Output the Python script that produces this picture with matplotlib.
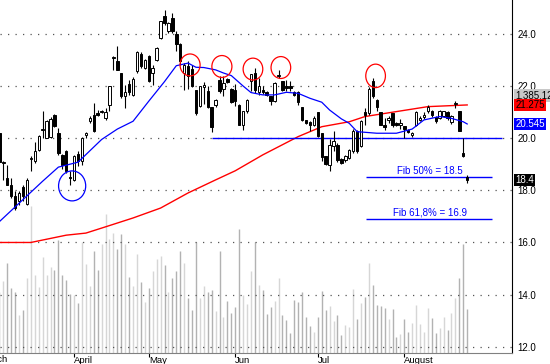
import numpy as np
import matplotlib
matplotlib.use("Agg")
import matplotlib.pyplot as plt
import matplotlib.transforms as mtransforms
from matplotlib.patches import Ellipse

plt.rcParams['font.family'] = ['Liberation Sans', 'DejaVu Sans']

# daily prices, one entry per trading day (March .. August)
opens = [20.20, 19.05, 18.47, 18.22, 17.77, 17.58, 18.12, 17.48, 19.20, 19.12,
         19.56, 20.30, 20.01, 20.05, 20.90, 20.20, 19.37, 19.50, 18.52, 18.41,
         19.39, 19.12, 20.13, 20.65, 20.90, 20.97, 21.00, 20.78, 21.29, 23.08,
         22.97, 22.50, 21.60, 22.09, 21.67, 22.57, 23.21, 22.70, 23.14, 22.50,
         23.00, 23.85, 24.68, 24.10, 24.61, 24.00, 23.62, 22.50, 22.75, 22.65,
         21.83, 21.22, 21.95, 21.80, 21.20, 21.28, 22.23, 21.89, 22.27, 21.89,
         21.86, 21.29, 20.50, 21.03, 22.21, 22.50, 21.77, 21.86, 21.77, 21.61,
         21.42, 22.37, 22.18, 22.00, 21.99, 21.77, 21.77, 21.19, 20.68, 20.62,
         20.50, 21.00, 20.20, 19.31, 18.99, 19.69, 19.75, 19.22, 19.18, 19.24,
         19.50, 20.27, 19.69, 21.00, 20.97, 22.21, 21.48, 21.00, 20.50, 20.71,
         20.97, 20.59, 20.52, 20.46, 20.33, 20.11, 20.50, 20.71, 20.80, 21.03,
         21.06, 20.80, 20.78, 20.84, 21.00, 20.62, 21.31, 21.03, 19.45, 18.50]
highs = [20.20, 19.11, 18.99, 18.47, 17.96, 17.96, 18.22, 18.47, 19.30, 19.84,
         20.14, 21.06, 20.70, 20.80, 20.92, 20.39, 19.40, 19.56, 18.73, 19.37,
         19.50, 20.05, 20.25, 20.84, 21.35, 21.10, 21.10, 21.16, 22.02, 23.14,
         23.53, 22.50, 22.05, 22.25, 22.35, 23.35, 23.30, 23.05, 23.20, 22.82,
         23.49, 24.51, 24.93, 24.45, 24.80, 24.10, 23.65, 22.90, 22.95, 22.80,
         21.83, 22.00, 22.16, 22.00, 21.20, 21.50, 22.40, 22.40, 22.30, 21.92,
         22.06, 21.30, 21.06, 21.50, 22.46, 22.70, 22.31, 22.00, 21.80, 21.61,
         22.15, 22.63, 22.20, 22.25, 22.18, 21.80, 21.80, 21.20, 20.70, 20.65,
         20.85, 21.00, 20.20, 19.31, 19.95, 20.29, 19.80, 19.25, 19.35, 19.60,
         20.35, 20.30, 20.70, 21.16, 21.95, 22.31, 21.50, 21.02, 20.78, 20.85,
         20.97, 20.62, 20.72, 20.46, 20.35, 20.25, 21.05, 20.85, 21.00, 21.29,
         21.10, 20.85, 21.10, 21.06, 21.05, 20.88, 21.42, 21.06, 20.00, 18.60]
lows = [19.05, 18.41, 18.20, 17.71, 17.26, 17.45, 17.58, 17.45, 18.73, 19.05,
        19.50, 20.01, 20.00, 20.00, 20.42, 19.37, 18.80, 18.67, 18.22, 18.35,
        18.92, 18.99, 20.00, 20.60, 20.25, 20.85, 20.95, 20.70, 21.03, 22.63,
        22.60, 21.55, 21.14, 21.67, 21.60, 22.50, 22.70, 22.65, 22.15, 22.05,
        22.95, 23.80, 24.36, 24.05, 24.04, 23.33, 22.82, 21.85, 21.90, 21.95,
        20.90, 21.20, 21.30, 21.15, 20.24, 21.20, 21.75, 21.60, 22.10, 21.35,
        21.22, 20.50, 20.33, 20.95, 21.80, 21.74, 21.67, 21.70, 21.60, 21.29,
        21.40, 22.30, 21.80, 21.80, 21.80, 21.60, 21.29, 20.65, 20.55, 20.27,
        20.45, 20.05, 19.12, 18.96, 18.73, 19.50, 19.10, 19.00, 19.10, 19.20,
        19.45, 19.45, 19.65, 20.52, 20.90, 21.55, 21.03, 20.50, 20.33, 20.60,
        20.42, 20.45, 20.37, 20.00, 20.20, 20.05, 20.45, 20.65, 20.75, 20.97,
        20.80, 20.60, 20.75, 20.80, 20.70, 20.55, 21.16, 20.27, 19.28, 18.30]
closes = [19.10, 19.08, 18.22, 17.77, 17.33, 17.90, 17.77, 18.41, 19.25, 19.50,
          20.07, 20.33, 20.65, 20.72, 20.46, 19.43, 18.99, 18.73, 18.47, 19.30,
          19.12, 20.01, 20.17, 20.78, 20.27, 20.90, 21.06, 21.00, 22.02, 23.10,
          22.63, 21.60, 21.77, 21.77, 22.28, 23.31, 22.76, 23.00, 22.21, 22.70,
          23.46, 24.49, 24.42, 24.42, 24.10, 23.62, 22.95, 22.80, 22.40, 21.99,
          20.97, 22.00, 22.05, 21.20, 20.43, 21.47, 21.81, 22.12, 22.16, 21.39,
          21.42, 20.52, 21.06, 21.48, 22.46, 21.86, 21.99, 21.77, 21.65, 21.42,
          22.12, 22.40, 21.86, 21.92, 21.93, 21.67, 21.39, 20.68, 20.59, 20.52,
          20.78, 20.07, 19.27, 19.01, 19.75, 19.90, 19.18, 19.05, 19.31, 19.56,
          20.29, 19.50, 20.65, 20.90, 21.89, 21.61, 21.19, 20.52, 20.42, 20.78,
          20.50, 20.52, 20.59, 20.37, 20.24, 20.20, 21.00, 20.78, 20.90, 21.19,
          20.88, 20.65, 21.06, 21.03, 20.78, 20.84, 21.34, 20.29, 19.30, 18.40]
# volume in thousands of shares
volume = [1889, 2254, 2802, 2024, 1889, 1184, 1332, 2330, 4606, 2433,
          2065, 3009, 2433, 2676, 2600, 3535, 2443, 2276, 1835, 1813,
          1574, 3463, 2780, 2097, 3198, 2591, 3409, 4354, 3567, 3756,
          3252, 3724, 3409, 2380, 2097, 3094, 2204, 1605, 2046, 2550,
          2959, 3032, 2758, 1889, 2330, 2569, 3198, 2802, 1709, 1332,
          3494, 1709, 2097, 1889, 1961, 1291, 3198, 1102, 1624, 1259,
          1417, 3881, 1804, 1520, 2550, 3494, 2119, 1961, 1206, 1448,
          1624, 2339, 1174, 1017, 608, 1646, 1593, 1889, 1121, 837,
          661, 1121, 1939, 1332, 1467, 995, 1174, 545, 859, 806,
          1993, 1048, 1543, 1750, 2802, 2119, 1498, 1458, 1395, 1070,
          1385, 491, 598, 1048, 648, 913, 1498, 891, 630, 1395,
          1080, 617, 765, 1121, 702, 1228, 1731, 2361, 3431, 1385.12]

# moving averages
blue_ma_day = [0, 11, 15, 20, 26, 30, 34, 38, 42, 45, 48, 50, 52, 55, 57, 59,
               62, 64, 67, 70, 73, 76, 79, 82, 84, 87, 89, 91, 96, 101, 105,
               108, 112, 115, 118, 119]
blue_ma_val = [16.80, 18.35, 18.89, 19.08, 19.95, 20.35, 20.65, 21.42, 22.17,
               22.78, 22.88, 22.72, 22.71, 22.62, 22.50, 22.40, 22.00, 21.75,
               21.66, 21.66, 21.76, 21.72, 21.53, 21.38, 21.08, 20.74, 20.57,
               20.25, 20.19, 20.19, 20.35, 20.70, 20.83, 20.76, 20.63, 20.545]
red_ma_day = [0, 8, 17, 22, 27, 34, 41, 48, 55, 60, 67, 76, 82, 89, 93, 101,
              109, 119]
red_ma_val = [16.0, 16.0, 16.28, 16.36, 16.6, 16.94, 17.32, 17.9, 18.4, 18.75,
              19.36, 20.06, 20.44, 20.63, 20.83, 21.02, 21.21, 21.275]

month_names = ['March', 'April', 'May', 'Jun', 'Jul', 'August']
month_start = [-4.6, 19, 38, 60, 81, 103]
price_ticks = [12.0, 14.0, 16.0, 18.0, 20.0, 22.0, 24.0]

support_level = 20.0
fib_levels = [18.5, 16.9]
fib_labels = ['Fib 50% = 18.5', 'Fib 61,8% = 16.9']

# hand-drawn markers: (day, price, width in days, height in price)
red_marks = [(48.5, 22.81, 5.1, 0.84), (56.6, 22.75, 5.1, 0.84),
             (64.5, 22.65, 5.0, 0.84), (71.6, 22.71, 5.0, 0.84),
             (95.7, 22.39, 5.0, 0.90)]
blue_mark = (18.5, 18.17, 6.9, 1.15)

opens = np.array(opens)
closes = np.array(closes)
days = np.arange(len(opens))
up = closes >= opens

fig = plt.figure(figsize=(5.5, 3.64), dpi=100)
rect = [0, 11.5 / 364, 512 / 550, 352.5 / 364]
axv = fig.add_axes(rect)
ax = fig.add_axes(rect, sharex=axv)
ax.patch.set_visible(False)

# volume underneath
axv.vlines(days, 0, volume, colors=np.where(up, '#d6d6d6', '#b2b2b2'), lw=1)
axv.set_ylim(0, 352.5 * 31.48)
axv.axis('off')

# price grid
ax.grid(axis='y', color='#555555', linestyle=(0, (1, 5)), lw=0.9)
ax.set_axisbelow(True)

ax.plot(red_ma_day, red_ma_val, color='#ff0000', lw=1.0, zorder=2)
ax.hlines(support_level, 54, 127.8, color='#0000ff', lw=1.0, zorder=2)

# candles
ax.vlines(days, lows, highs, color='black', lw=0.8, zorder=3)
body_low = np.minimum(opens, closes)
body_h = np.maximum(np.abs(closes - opens), 0.05)
ax.bar(days, body_h, bottom=body_low, width=0.62,
       color=np.where(up, 'white', 'black'), edgecolor='black', lw=0.7, zorder=4)

ax.plot(blue_ma_day, blue_ma_val, color='#0000ff', lw=0.9, zorder=5)

for lvl, lab in zip(fib_levels, fib_labels):
    ax.hlines(lvl, 93.2, 125.3, color='#0000ff', lw=1.0, zorder=2)
    ax.text(109.5, lvl + 0.25, lab, color='#0000ff', fontsize=7,
            ha='center', va='center')

for cx, cy, w, h in red_marks:
    ax.add_patch(Ellipse((cx, cy), w, h, fill=False, ec='#ff0000', lw=0.9, zorder=6))
bx, by, bw, bh = blue_mark
ax.add_patch(Ellipse((bx, by), bw, bh, fill=False, ec='#0000ff', lw=0.9, zorder=6))

ax.set_xlim(0.15, 130.4)
ax.set_ylim(11.78, 25.30)

# axes cosmetics
for side in ['left', 'top']:
    ax.spines[side].set_visible(False)
ax.spines['right'].set_color('black')
ax.spines['bottom'].set_color('#808080')
ax.yaxis.tick_right()
ax.set_yticks(price_ticks)
ax.set_yticklabels([f'{t:.1f}' for t in price_ticks], fontsize=7)
ax.tick_params(axis='y', length=0, pad=4)

ax.set_xticks(month_start[1:])
ax.set_xticklabels(month_names[1:], fontsize=6.8, ha='left')
ax.tick_params(axis='x', direction='out', length=3, pad=-0.5, color='black')
trans = mtransforms.blended_transform_factory(ax.transData, ax.transAxes)
ax.text(month_start[0], -0.008, month_names[0], transform=trans, fontsize=6.8,
        ha='left', va='top', clip_on=False)

# value tags on the right
ytrans = mtransforms.blended_transform_factory(ax.transAxes, ax.transData)
tags = [
    (red_ma_val[-1] + 0.36, f'{int(round(volume[-1] * 1000)):,}', '#c8c8c8', 'black'),
    (red_ma_val[-1], f'{red_ma_val[-1]:.3f}', '#ff0000', 'black'),
    (blue_ma_val[-1], f'{blue_ma_val[-1]:.3f}', '#0000ff', 'white'),
    (closes[-1], f'{closes[-1]:.1f}', 'black', 'white'),
]
for yv, txt, fc, tc in tags:
    ax.text(1.006, yv, txt, transform=ytrans, fontsize=7, color=tc,
            ha='left', va='center', clip_on=False,
            bbox=dict(boxstyle='square,pad=0.12', fc=fc, ec='none'))

fig.savefig('out.png', dpi=100)
